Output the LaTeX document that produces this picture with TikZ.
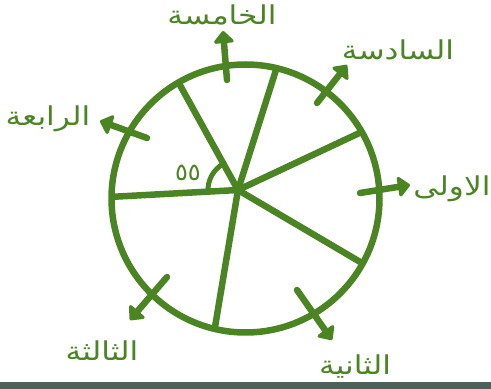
\documentclass[tikz,border=0pt]{standalone}
\usepackage{fontspec}
\usetikzlibrary{arrows.meta}
\TeXXeTstate=1
\newfontfamily\arabicfont[Script=Arabic]{DejaVu Sans}
\definecolor{leaf}{RGB}{75,133,35}
\definecolor{barc}{RGB}{74,98,90}
\newcommand{\arlabel}[1]{\scalebox{1.2}[1]{\arabicfont\fontsize{26}{30}\selectfont\beginR #1\endR}}
\begin{document}
\begin{tikzpicture}[x=1pt,y=1pt,
  wheel/.style={draw=leaf,line width=6.5pt},
  spoke/.style={draw=leaf,line width=6.5pt},
  outarrow/.style={draw=leaf,line width=6.5pt,line cap=round,
    -{Triangle[length=13pt,width=23pt,round]}},
  lbl/.style={text=leaf,inner sep=0pt},
  anglearc/.style={draw=leaf,line width=5pt}]
\useasboundingbox (0,0) rectangle (491,389);
\fill[barc] (0,0) rectangle (491,7);
% circle and hub
\coordinate (c) at (245.5,190.5);
\coordinate (hub) at (238,199);
\draw[wheel] (c) circle[radius=134];
% spokes
\path (c) ++(29.8:134) coordinate (s1);
\path (c) ++(76.6:134) coordinate (s2);
\path (c) ++(120:134) coordinate (s3);
\path (c) ++(179.3:134) coordinate (s4);
\path (c) ++(256.7:134) coordinate (s5);
\path (c) ++(331:134) coordinate (s6);
\foreach \s in {s1,s2,s3,s4,s5,s6} \draw[spoke] (hub) -- (\s);
% angle arc
\draw[anglearc] (hub) ++(119:30) arc[start angle=119,end angle=183,radius=30];
\node[lbl,font=\arabicfont\fontsize{24}{28}\selectfont] (ang) at (188,216) {\beginR ٥٥\endR};
% arrows
\coordinate (a1s) at (360,196); \coordinate (a1e) at (410,204);
\coordinate (a2s) at (297,99);  \coordinate (a2e) at (332,49);
\coordinate (a3s) at (167,112); \coordinate (a3e) at (130,69);
\coordinate (a4s) at (147,251); \coordinate (a4e) at (100,268);
\coordinate (a5s) at (227,309); \coordinate (a5e) at (223,358);
\coordinate (a6s) at (317,286); \coordinate (a6e) at (347,324);
\foreach \i in {1,...,6} \draw[outarrow] (a\i s) -- (a\i e);
% labels
\node[lbl] (l1) at (452,200) {\arlabel{الاولى}};
\node[lbl] (l2) at (355,22) {\arlabel{الثانية}};
\node[lbl] (l3) at (102,38) {\arlabel{الثالثة}};
\node[lbl] (l4) at (48,270) {\arlabel{الرابعة}};
\node[lbl] (l5) at (222,374) {\arlabel{الخامسة}};
\node[lbl] (l6) at (398,339) {\arlabel{السادسة}};
\end{tikzpicture}
\end{document}
